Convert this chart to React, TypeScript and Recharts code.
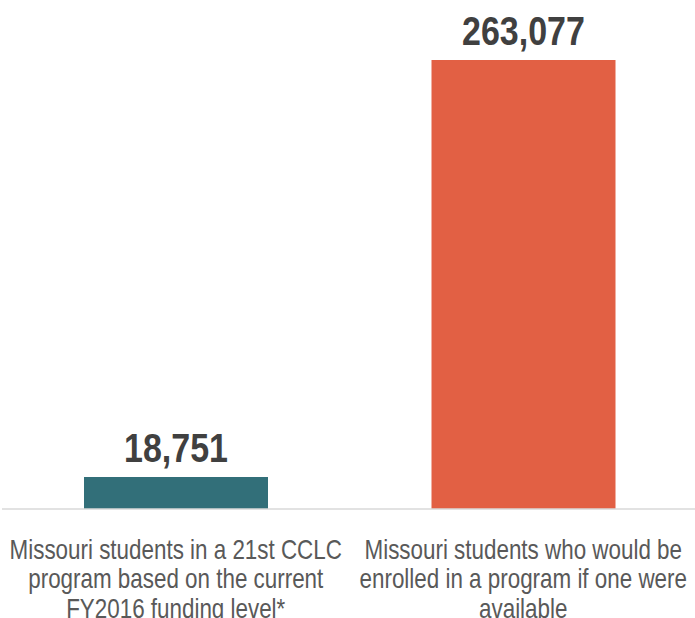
import { BarChart, Bar, XAxis, YAxis, Cell, LabelList } from 'recharts';

const categories = [
  ['Missouri students in a 21st CCLC', 'program based on the current', 'FY2016 funding level*'],
  ['Missouri students who would be', 'enrolled in a program if one were', 'available'],
];
const students = [18751, 263077];
const barColors = ['#326f79', '#e26044'];

const data = categories.map((lines, i) => ({
  name: lines.join(' '),
  lines,
  value: students[i],
}));

// no narrow face installed, so squeeze the regular one horizontally
const FONT = "'Liberation Sans', Arial, sans-serif";
const squeeze = (cx: number, k: number) => `translate(${cx},0) scale(${k},1) translate(${-cx},0)`;

function CategoryTick(props: any) {
  const { x, y, index } = props;
  const lines: string[] = categories[index] ?? [];
  return (
    <text
      x={x}
      y={y}
      textAnchor="middle"
      fill="#595959"
      fontFamily={FONT}
      fontSize={27}
      transform={squeeze(x, 0.83)}
    >
      {lines.map((line, i) => (
        <tspan key={i} x={x} y={y + 42 + i * 29.5}>
          {line}
        </tspan>
      ))}
    </text>
  );
}

function ValueLabel(props: any) {
  const { x, y, width, value } = props;
  const cx = x + width / 2;
  return (
    <text
      x={cx}
      y={y - 15}
      textAnchor="middle"
      fill="#404040"
      fontFamily={FONT}
      fontWeight="bold"
      fontSize={40}
      transform={squeeze(cx, 0.85)}
    >
      {Number(value).toLocaleString('en-US')}
    </text>
  );
}

export default function App() {
  return (
    <div style={{ position: 'absolute', left: 0, top: 0, background: '#fff' }}>
      <BarChart
        width={695}
        height={618}
        data={data}
        margin={{ top: 60, right: -2, left: 2, bottom: 0 }}
      >
        <XAxis
          dataKey="name"
          height={109}
          axisLine={{ stroke: '#d9d9d9', strokeWidth: 1.5 }}
          tickLine={false}
          interval={0}
          tick={<CategoryTick />}
        />
        <YAxis hide domain={[0, 263077]} />
        <Bar dataKey="value" barSize={184} isAnimationActive={false}>
          {data.map((d, i) => (
            <Cell key={d.name} fill={barColors[i]} />
          ))}
          <LabelList dataKey="value" content={<ValueLabel />} />
        </Bar>
      </BarChart>
    </div>
  );
}
